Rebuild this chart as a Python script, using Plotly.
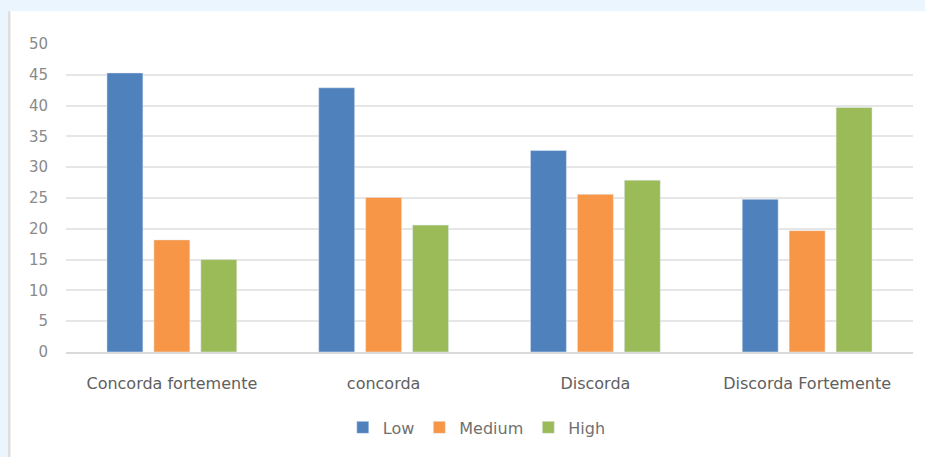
import plotly.graph_objects as go

categories = ["Concorda fortemente", "concorda", "Discorda", "Discorda Fortemente"]
low = [45.3, 42.9, 32.7, 24.8]
medium = [18.2, 25.1, 25.6, 19.7]
high = [15.0, 20.6, 27.9, 39.7]
tick_vals = [0, 5, 10, 15, 20, 25, 30, 35, 40, 45, 50]

W, H = 925, 457
L, R, T, B = 66, 12, 44, 103
pw, ph = W - L - R, H - T - B

def px_x(p):
    return (p - L) / pw

def px_y(p):
    return (H - B - p) / ph

fig = go.Figure()
fig.add_trace(go.Bar(name="Low", x=categories, y=low, marker_color="#4F81BD"))
fig.add_trace(go.Bar(name="Medium", x=categories, y=medium, marker_color="#F79646"))
fig.add_trace(go.Bar(name="High", x=categories, y=high, marker_color="#9BBB59"))

fig.update_layout(
    width=W, height=H,
    margin=dict(l=L, r=R, t=T, b=B, pad=0),
    paper_bgcolor="#EBF5FD",
    plot_bgcolor="rgba(0,0,0,0)",
    barmode="group",
    bargap=0.335,
    bargroupgap=0.234,
    font=dict(family="DejaVu Sans", color="#707070"),
    showlegend=True,
    legend=dict(orientation="h", x=0.485, xanchor="center", y=-0.245, yanchor="middle",
                font=dict(size=16, color="#707070"), bgcolor="rgba(0,0,0,0)"),
    shapes=[
        dict(type="rect", xref="paper", yref="paper", x0=px_x(8), x1=px_x(W + 5),
             y0=px_y(11), y1=px_y(H + 5), fillcolor="white", line_width=0, layer="below"),
        dict(type="rect", xref="paper", yref="paper", x0=px_x(8), x1=px_x(10.5),
             y0=px_y(11), y1=px_y(H + 5), fillcolor="#DEDEDE", line_width=0, layer="below"),
    ],
)
fig.update_yaxes(range=[0, 50], tickvals=tick_vals, showgrid=True, gridcolor="#E6E6E6",
                 gridwidth=2, zeroline=False, showline=False,
                 tickfont=dict(size=15, color="#8A8A8A"), ticklabelstandoff=17)
fig.update_xaxes(showline=True, linecolor="#DADADA", linewidth=2,
                 tickfont=dict(size=16, color="#606060"), ticklabelstandoff=16)

fig.write_html("out.html")
